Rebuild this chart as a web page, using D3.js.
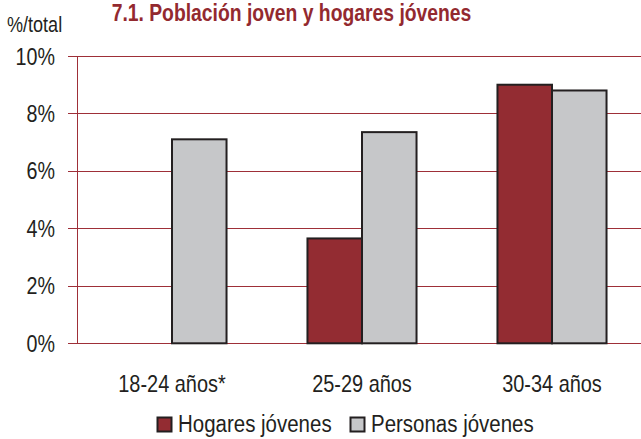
<!DOCTYPE html>
<html>
<head>
<meta charset="utf-8">
<script src="https://cdn.jsdelivr.net/npm/d3@7/dist/d3.min.js"></script>
<style>
  html, body { margin: 0; padding: 0; background: #fff; overflow: hidden; }
  svg { display: block; }
  text { font-family: "Liberation Sans", Arial, sans-serif; fill: #231f20; }
</style>
</head>
<body>
<svg id="chart" width="641" height="439"></svg>
<script>
// Share of young population and young households by age group (% of total)
const categories = ["18-24 años*", "25-29 años", "30-34 años"];
const seriesNames = ["Hogares jóvenes", "Personas jóvenes"];
const hogares = [null, 3.65, 9.0];
const personas = [7.1, 7.35, 8.8];
const yTicks = [0, 2, 4, 6, 8, 10];
const yTickLabels = ["0%", "2%", "4%", "6%", "8%", "10%"];

const colors = { "Hogares jóvenes": "#932c32", "Personas jóvenes": "#c6c7c9" };
const gridColor = "#9e2f38";

const svg = d3.select("#chart");
const W = 641, H = 439;
const plot = { left: 77, right: 647, top: 56, bottom: 343.3 };

const y = d3.scaleLinear().domain([0, 10]).range([plot.bottom, plot.top]);
const x0 = d3.scaleBand().domain(categories).range([plot.left, plot.right])
  .paddingInner(0.426).paddingOuter(0.213);
const x1 = d3.scaleBand().domain(seriesNames).range([0, x0.bandwidth()]);

// Squeeze a text selection horizontally (condensed look), keeping its anchor point
function condense(sel, factor = 0.82) {
  sel.each(function () {
    const len = this.getComputedTextLength();
    d3.select(this).attr("textLength", len * factor).attr("lengthAdjust", "spacingAndGlyphs");
  });
}

// Title
svg.append("text")
  .attr("x", 291.5).attr("y", 21)
  .attr("text-anchor", "middle")
  .style("font-weight", "bold").style("font-size", "23px").style("fill", "#93292f")
  .text("7.1. Población joven y hogares jóvenes")
  .call(condense, 0.84);

svg.append("text")
  .attr("x", 7).attr("y", 32)
  .style("font-size", "22px")
  .text("%/total")
  .call(condense);

// Gridlines + tick marks
const grid = svg.append("g");
grid.selectAll("line.grid").data(yTicks).join("line")
  .attr("class", "grid")
  .attr("x1", plot.left - 9).attr("x2", W)
  .attr("y1", d => Math.round(y(d)) + 0.5).attr("y2", d => Math.round(y(d)) + 0.5)
  .attr("stroke", gridColor).attr("stroke-width", 1);
grid.append("line")
  .attr("x1", plot.left + 0.5).attr("x2", plot.left + 0.5)
  .attr("y1", Math.round(y(10)) + 0.5).attr("y2", Math.round(y(0)) + 0.5)
  .attr("stroke", gridColor).attr("stroke-width", 1);

svg.append("g").selectAll("text").data(yTicks).join("text")
  .attr("x", 55).attr("y", d => y(d) + 8.5)
  .attr("text-anchor", "end")
  .style("font-size", "24px")
  .text((d, i) => yTickLabels[i])
  .call(condense);

// Bars
const rows = categories.map((c, i) => ({
  category: c,
  values: [
    { key: seriesNames[0], value: hogares[i] },
    { key: seriesNames[1], value: personas[i] }
  ]
}));

svg.append("g").selectAll("g").data(rows).join("g")
  .attr("transform", d => `translate(${x0(d.category)},0)`)
  .selectAll("rect").data(d => d.values.filter(v => v.value != null)).join("rect")
  .attr("x", d => x1(d.key))
  .attr("y", d => y(d.value))
  .attr("width", x1.bandwidth())
  .attr("height", d => y(0) - y(d.value))
  .attr("fill", d => colors[d.key])
  .attr("stroke", "#231f20").attr("stroke-width", 2);

// Category labels
svg.append("g").selectAll("text").data(categories).join("text")
  .attr("x", d => x0(d) + x0.bandwidth() / 2)
  .attr("y", 392)
  .attr("text-anchor", "middle")
  .style("font-size", "24px")
  .text(d => d)
  .call(condense, 0.83);

// Legend
const legendItems = [
  { key: seriesNames[0], x: 157 },
  { key: seriesNames[1], x: 350 }
];
const lg = svg.append("g").selectAll("g").data(legendItems).join("g")
  .attr("transform", d => `translate(${d.x},417)`);
lg.append("rect")
  .attr("x", 0.5).attr("y", 0.5).attr("width", 14).attr("height", 14)
  .attr("fill", d => colors[d.key]).attr("stroke", "#231f20").attr("stroke-width", 2);
lg.append("text")
  .attr("x", 21).attr("y", 15)
  .style("font-size", "23px")
  .text(d => d.key)
  .call(condense, 0.89);
</script>
</body>
</html>
